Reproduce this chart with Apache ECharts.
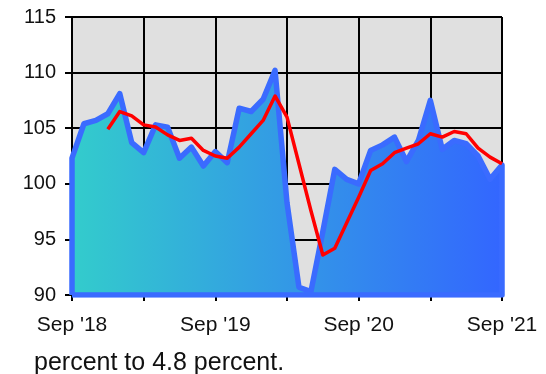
<!DOCTYPE html>
<html>
<head>
<meta charset="utf-8">
<style>
  html, body { margin: 0; padding: 0; background: #ffffff; }
  #chart { width: 546px; height: 374px; }
</style>
<script src="https://cdn.jsdelivr.net/npm/echarts@6/dist/echarts.min.js"></script>
</head>
<body>
<div id="chart"></div>
<script>
// Month offsets from Sep 2018 (0) to Sep 2021 (36)
var months = [0,1,2,3,4,5,6,7,8,9,10,11,12,13,14,15,16,17,18,19,20,21,22,23,24,25,26,27,28,29,30,31,32,33,34,35,36];

// Monthly index values
var indexValues = [102.3,105.4,105.7,106.3,108.1,103.7,102.8,105.3,105.1,102.3,103.3,101.6,102.9,101.9,106.8,106.5,107.6,110.2,98.3,90.7,90.3,95.7,101.3,100.4,100.0,103.0,103.5,104.2,102.0,103.9,107.5,103.1,103.9,103.6,102.5,100.4,101.7];

// Moving average, starts at Dec 2018 (offset 3)
var avgStart = 3;
var avgValues = [104.9,106.5,106.1,105.3,105.1,104.4,103.9,104.1,103.0,102.5,102.3,103.3,104.5,105.7,107.9,106.0,101.8,97.6,93.6,94.2,96.5,98.8,101.2,101.8,102.8,103.2,103.6,104.5,104.2,104.7,104.5,103.2,102.4,101.8];

var yTicks = [90, 95, 100, 105, 110, 115];
var xTickLabels = { 0: "Sep '18", 12: "Sep '19", 24: "Sep '20", 36: "Sep '21" };
var captionText = "percent to 4.8 percent.";

var yMin = yTicks[0], yMax = yTicks[yTicks.length - 1];

// Area outline: left edge up, along the values, right edge down
var areaData = [[months[0], yMin]];
months.forEach(function (m, i) { areaData.push([m, indexValues[i]]); });
areaData.push([months[months.length - 1], yMin]);
areaData.push([months[0], yMin]);

var avgData = avgValues.map(function (v, i) { return [avgStart + i, v]; });

var chart = echarts.init(document.getElementById('chart'), null, { renderer: 'canvas' });
var font = '"Liberation Sans", Arial, sans-serif';

chart.setOption({
  animation: false,
  grid: {
    left: 72, right: 44, top: 17, bottom: 79,
    show: true, backgroundColor: '#e0e0e0', borderWidth: 0
  },
  xAxis: {
    type: 'value', min: 0, max: 36, interval: 6,
    axisLine: { show: true, onZero: false, lineStyle: { color: '#000', width: 2 } },
    axisTick: { show: true, length: 6, lineStyle: { color: '#000', width: 2 } },
    axisLabel: {
      margin: 20, color: '#111', fontSize: 21, fontFamily: font,
      showMinLabel: true, showMaxLabel: true,
      formatter: function (v) { return xTickLabels[v] || ''; }
    },
    splitLine: { show: true, lineStyle: { color: '#000', width: 2 } }
  },
  yAxis: {
    type: 'value', min: yMin, max: yMax, interval: 5,
    axisLine: { show: true, lineStyle: { color: '#000', width: 2 } },
    axisTick: { show: true, length: 7, lineStyle: { color: '#000', width: 2 } },
    axisLabel: { margin: 16, color: '#111', fontSize: 20, fontFamily: font },
    splitLine: { show: true, lineStyle: { color: '#000', width: 2 } }
  },
  series: [
    {
      type: 'line', data: areaData, symbol: 'none', smooth: false,
      lineStyle: { color: '#3a6bff', width: 5.5, join: 'round' },
      areaStyle: {
        opacity: 1,
        color: new echarts.graphic.LinearGradient(0, 0, 1, 0, [
          { offset: 0, color: '#33cccc' },
          { offset: 1, color: '#3366ff' }
        ])
      },
      z: 2
    },
    {
      type: 'line', data: avgData, symbol: 'none', smooth: false,
      lineStyle: { color: '#ff0000', width: 3.5, join: 'round' },
      z: 3
    }
  ],
  graphic: [{
    type: 'text', left: 34, top: 351,
    style: { text: captionText, fill: '#111', font: '25px ' + font }
  }]
});
</script>
</body>
</html>
